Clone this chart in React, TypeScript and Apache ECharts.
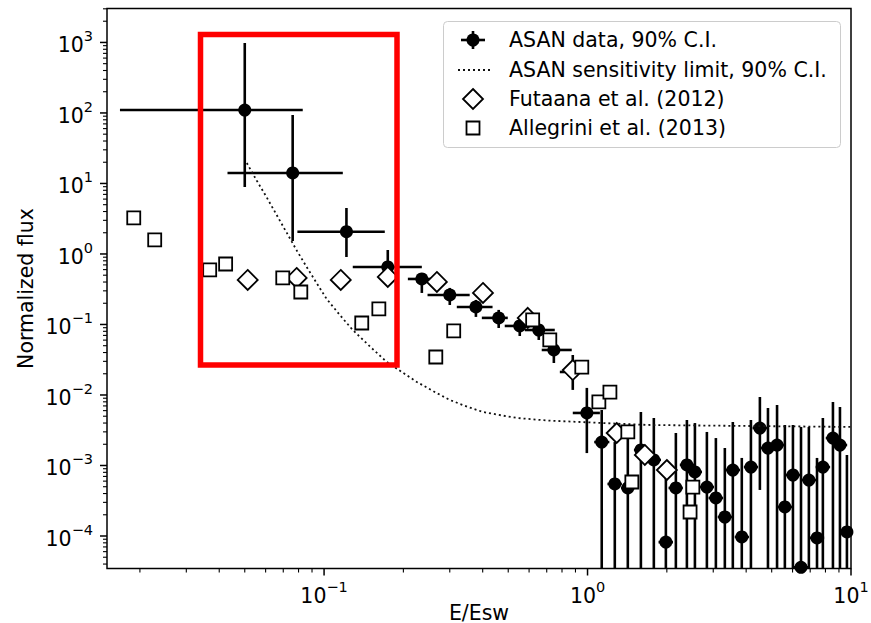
import React, { useEffect, useRef } from 'react';
import * as echarts from 'echarts';

const xAxisName = 'E/Esw';
const yAxisName = 'Normalized flux';
const legendNames = [
  'ASAN data, 90% C.I.',
  'ASAN sensitivity limit, 90% C.I.',
  'Futaana et al. (2012)',
  'Allegrini et al. (2013)',
];

const xMin = 0.015;
const xMax = 10;
const yMin = 3.46e-5;
const yMax = 3030;

const tickExponents = [-4, -3, -2, -1, 0, 1, 2, 3];
const tickExpLabels = ['−4', '−3', '−2', '−1', '0', '1', '2', '3'];

// ASAN data with 90% C.I. error bars
const asanX = [0.05, 0.076, 0.1216, 0.1745, 0.235, 0.3, 0.377, 0.46, 0.553, 0.653, 0.745, 0.879, 0.994,
  1.132, 1.269, 1.422, 1.594, 1.785, 1.983, 2.164, 2.383, 2.556, 2.838, 3.07, 3.32, 3.56, 3.85, 4.17,
  4.51, 4.84, 5.24, 5.61, 6.02, 6.46, 6.92, 7.43, 7.82, 8.54, 9.08, 9.65];
const asanY = [110, 14.1, 2.07, 0.654, 0.442, 0.262, 0.177, 0.124, 0.0953, 0.0835, 0.0435, 0.0212, 0.00556,
  0.00215, 0.000547, 0.00048, 0.00166, 0.0012, 0.000082, 0.00048, 0.00102, 0.00081, 0.000495, 0.000346,
  0.000186, 0.000863, 0.000097, 0.00095, 0.0034, 0.00177, 0.00195, 0.000258, 0.000733, 0.000036, 0.000622,
  0.000094, 0.00095, 0.00245, 0.00195, 0.000114];
const asanXLo = [0.0168, 0.043, 0.0792, 0.1285, 0.208, 0.247, 0.319, 0.397, 0.485, 0.578, 0.67, 0.785, 0.879,
  1.06, 1.19, 1.34, 1.5, 1.68, 1.86, 2.03, 2.24, 2.4, 2.66, 2.88, 3.12, 3.34, 3.62, 3.92,
  4.23, 4.54, 4.92, 5.27, 5.65, 6.07, 6.5, 6.98, 7.34, 8.02, 8.53, 9.06];
const asanXHi = [0.083, 0.1178, 0.17, 0.235, 0.27, 0.357, 0.436, 0.498, 0.631, 0.751, 0.871, 0.955, 1.114,
  1.21, 1.35, 1.51, 1.7, 1.9, 2.11, 2.3, 2.54, 2.72, 3.02, 3.27, 3.54, 3.79, 4.1, 4.44,
  4.8, 5.15, 5.58, 5.97, 6.41, 6.88, 7.37, 7.91, 8.33, 9.09, 9.67, 10.28];
const asanYLo = [8.9, 1.53, 0.906, 0.375, 0.28, 0.189, 0.128, 0.0892, 0.0687, 0.0603, 0.0284, 0.0118, 0.0015,
  1e-6, 1e-6, 1e-6, 1e-6, 1e-6, 1e-6, 1e-6, 1e-6, 1e-6, 1e-6, 1e-6, 1e-6, 1e-6, 1e-6, 1e-6,
  0.00045, 1e-6, 1e-6, 1e-6, 1e-6, 1e-6, 1e-6, 1e-6, 1e-6, 1e-6, 1e-6, 1e-6];
const asanYHi = [984, 93.7, 4.49, 1.14, 0.537, 0.33, 0.223, 0.161, 0.124, 0.116, 0.0665, 0.0369, 0.0126,
  0.00612, 0.00215, 0.0034, 0.00574, 0.00472, 0.00078, 0.00289, 0.00442, 0.004, 0.00299, 0.00245,
  0.00177, 0.00414, 0.00128, 0.00442, 0.00937, 0.00654, 0.00721, 0.00375, 0.00375, 0.00352, 0.00352,
  0.00128, 0.00472, 0.00796, 0.00676, 0.00141];

// ASAN sensitivity limit
const limitX = [0.0509, 0.0555, 0.0605, 0.066, 0.0722, 0.079, 0.0859, 0.094, 0.1023, 0.115, 0.1285, 0.15, 0.173,
  0.2, 0.225, 0.26, 0.3, 0.35, 0.401, 0.47, 0.54, 0.7, 0.936, 1.3, 1.73, 4.13, 10];
const limitY = [19.5, 11.0, 6.4, 3.6, 1.99, 1.1, 0.654, 0.38, 0.23, 0.135, 0.0835, 0.048, 0.0294,
  0.0205, 0.0153, 0.0113, 0.0085, 0.0068, 0.00574, 0.00515, 0.00472, 0.00435, 0.00414, 0.00392, 0.00375, 0.00363, 0.00352];

// Futaana et al. (2012)
const futaanaX = [0.0513, 0.0787, 0.1157, 0.1745, 0.268, 0.401, 0.593, 0.879, 1.29, 1.65, 2.0];
const futaanaY = [0.428, 0.457, 0.428, 0.472, 0.401, 0.28, 0.124, 0.0226, 0.00289, 0.00141, 0.000863];

// Allegrini et al. (2013)
const allegriniX = [0.01895, 0.02276, 0.0368, 0.0423, 0.0697, 0.0816, 0.139, 0.1614, 0.2655, 0.3105, 0.619,
  0.719, 0.951, 1.104, 1.216, 1.422, 1.473, 2.51, 2.45];
const allegriniY = [3.24, 1.58, 0.593, 0.721, 0.457, 0.289, 0.105, 0.166, 0.0346, 0.0809, 0.116,
  0.0603, 0.0249, 0.00796, 0.011, 0.00299, 0.000583, 0.000495, 0.000219];

const minorMultipliers = [2, 3, 4, 5, 6, 7, 8, 9];

function buildTicks(lo: number, hi: number) {
  const out: [number, number][] = [];
  for (let e = Math.floor(Math.log10(lo)); e <= Math.ceil(Math.log10(hi)); e++) {
    const base = Math.pow(10, e);
    if (base >= lo * 0.999 && base <= hi * 1.001) out.push([base, 1]);
    for (const m of minorMultipliers) {
      const v = m * base;
      if (v >= lo && v <= hi) out.push([v, 0]);
    }
  }
  return out;
}

function labelFmt(v: number) {
  const e = Math.log10(v);
  const r = Math.round(e);
  if (Math.abs(e - r) > 1e-6) return '';
  const i = tickExponents.indexOf(r);
  return i >= 0 ? '{b|10}{s|' + tickExpLabels[i] + '}' : '';
}

const FONT = 'DejaVu Sans';
const FS = 20.5;
const richSup = {
  b: { fontFamily: FONT, fontSize: FS, color: '#000', lineHeight: 27, verticalAlign: 'bottom' },
  s: { fontFamily: FONT, fontSize: 14.5, color: '#000', lineHeight: 15, verticalAlign: 'top' },
};

export default function App() {
  const ref = useRef<HTMLDivElement>(null);
  useEffect(() => {
    if (!ref.current) return;
    const chart = echarts.init(ref.current, undefined, { renderer: 'svg' });

    const errData = asanX.map((x, i) => [x, asanY[i], asanXLo[i], asanXHi[i], asanYLo[i], asanYHi[i]]);
    const xTicks = buildTicks(xMin, xMax).map(([v, major]) => [v, yMin, major]);
    const yTicks = buildTicks(yMin, yMax).map(([v, major]) => [xMin, v, major]);

    const lx = 473;
    const rowY = [40, 70, 99, 128];
    const Z = 100;

    chart.setOption({
      animation: false,
      backgroundColor: '#fff',
      grid: {
        left: 107,
        right: 20,
        top: 8.5,
        bottom: 54.5,
        outerBoundsMode: 'none',
        containLabel: false,
        show: true,
        borderColor: '#000',
        borderWidth: 1.5,
        backgroundColor: 'transparent',
      },
      xAxis: {
        type: 'log',
        logBase: 10,
        min: xMin,
        max: xMax,
        name: xAxisName,
        nameLocation: 'middle',
        nameGap: 35,
        nameMoveOverlap: false,
        nameTextStyle: { fontFamily: FONT, fontSize: FS, color: '#000', lineHeight: 18 },
        axisLine: { show: false },
        axisTick: { show: false },
        splitLine: { show: false },
        axisLabel: {
          formatter: labelFmt,
          rich: richSup,
          margin: 11,
          showMinLabel: false,
        },
      },
      yAxis: {
        type: 'log',
        logBase: 10,
        min: yMin,
        max: yMax,
        name: yAxisName,
        nameLocation: 'middle',
        nameGap: 71,
        nameRotate: 90,
        nameMoveOverlap: false,
        nameTextStyle: { fontFamily: FONT, fontSize: FS, color: '#000' },
        axisLine: { show: false },
        axisTick: { show: false },
        splitLine: { show: false },
        axisLabel: {
          formatter: labelFmt,
          rich: richSup,
          margin: 14,
          showMinLabel: false,
          showMaxLabel: false,
        },
      },
      series: [
        {
          type: 'custom',
          name: 'xticks',
          coordinateSystem: 'cartesian2d',
          clip: false,
          silent: true,
          z: 10,
          encode: { x: 0, y: 1 },
          data: xTicks,
          renderItem: (params: any, api: any) => {
            const p = api.coord([api.value(0), api.value(1)]);
            const len = api.value(2) ? 7 : 4;
            return {
              type: 'line',
              shape: { x1: p[0], y1: p[1], x2: p[0], y2: p[1] + len },
              style: { stroke: '#000', lineWidth: api.value(2) ? 1.5 : 1.1 },
            };
          },
        },
        {
          type: 'custom',
          name: 'yticks',
          coordinateSystem: 'cartesian2d',
          clip: false,
          silent: true,
          z: 10,
          encode: { x: 0, y: 1 },
          data: yTicks,
          renderItem: (params: any, api: any) => {
            const p = api.coord([api.value(0), api.value(1)]);
            const len = api.value(2) ? 7 : 4;
            return {
              type: 'line',
              shape: { x1: p[0], y1: p[1], x2: p[0] - len, y2: p[1] },
              style: { stroke: '#000', lineWidth: api.value(2) ? 1.5 : 1.1 },
            };
          },
        },
        {
          type: 'custom',
          name: 'asanErr',
          coordinateSystem: 'cartesian2d',
          clip: true,
          silent: true,
          z: 2,
          encode: { x: 0, y: 1 },
          data: errData,
          renderItem: (params: any, api: any) => {
            const x = api.value(0);
            const y = api.value(1);
            const pl = api.coord([api.value(2), y]);
            const pr = api.coord([api.value(3), y]);
            const pt = api.coord([x, api.value(5)]);
            const pb = api.coord([x, api.value(4)]);
            const bottom = api.coord([x, yMin])[1];
            const right = api.coord([xMax, y])[0];
            const st = { stroke: '#000', lineWidth: 2.6 };
            return {
              type: 'group',
              children: [
                { type: 'line', shape: { x1: pl[0], y1: pl[1], x2: Math.min(pr[0], right), y2: pr[1] }, style: st },
                { type: 'line', shape: { x1: pt[0], y1: pt[1], x2: pb[0], y2: Math.min(pb[1], bottom) }, style: st },
              ],
            };
          },
        },
        {
          type: 'scatter',
          name: legendNames[0],
          z: 3,
          symbol: 'circle',
          symbolSize: 13,
          itemStyle: { color: '#000', opacity: 1 },
          data: asanX.map((x, i) => [x, asanY[i]]),
        },
        {
          type: 'line',
          name: legendNames[1],
          z: 4,
          showSymbol: false,
          symbol: 'none',
          smooth: false,
          lineStyle: { color: '#111', width: 1.8, type: [2, 3], opacity: 1 },
          data: limitX.map((x, i) => [x, limitY[i]]),
        },
        {
          type: 'scatter',
          name: legendNames[2],
          z: 5,
          symbol: 'diamond',
          symbolSize: [20, 20],
          itemStyle: { color: '#fff', borderColor: '#000', borderWidth: 1.8, opacity: 1 },
          data: futaanaX.map((x, i) => [x, futaanaY[i]]),
        },
        {
          type: 'scatter',
          name: legendNames[3],
          z: 6,
          symbol: 'rect',
          symbolSize: 13,
          itemStyle: { color: '#fff', borderColor: '#000', borderWidth: 1.8, opacity: 1 },
          data: allegriniX.map((x, i) => [x, allegriniY[i]]),
        },
      ],
      graphic: [
        {
          type: 'rect',
          z: Z,
          shape: { x: 200.5, y: 34.5, width: 196.5, height: 330.5 },
          style: { fill: 'none', stroke: '#ff0000', lineWidth: 5.5 },
        },
        {
          type: 'rect',
          z: Z + 1,
          shape: { x: 443.5, y: 21.5, width: 397, height: 126, r: 4 },
          style: { fill: 'rgba(255,255,255,0.8)', stroke: '#cccccc', lineWidth: 1 },
        },
        { type: 'line', z: Z + 2, shape: { x1: lx - 12, y1: rowY[0], x2: lx + 12, y2: rowY[0] }, style: { stroke: '#000', lineWidth: 2.6 } },
        { type: 'line', z: Z + 2, shape: { x1: lx, y1: rowY[0] - 9, x2: lx, y2: rowY[0] + 9 }, style: { stroke: '#000', lineWidth: 2.6 } },
        { type: 'circle', z: Z + 3, shape: { cx: lx, cy: rowY[0], r: 6.5 }, style: { fill: '#000' } },
        { type: 'line', z: Z + 2, shape: { x1: lx - 15, y1: rowY[1], x2: lx + 19, y2: rowY[1] }, style: { stroke: '#111', lineWidth: 1.8, lineDash: [2, 3] } },
        { type: 'polygon', z: Z + 2, shape: { points: [[lx, rowY[2] - 10], [lx + 10, rowY[2]], [lx, rowY[2] + 10], [lx - 10, rowY[2]]] }, style: { fill: '#fff', stroke: '#000', lineWidth: 1.8 } },
        { type: 'rect', z: Z + 2, shape: { x: lx - 6.5, y: rowY[3] - 6.5, width: 13, height: 13 }, style: { fill: '#fff', stroke: '#000', lineWidth: 1.8 } },
        ...legendNames.map((name, i) => ({
          type: 'text',
          z: Z + 2,
          x: 509,
          y: rowY[i],
          style: { text: name, fontFamily: FONT, fontSize: FS, fill: '#000', verticalAlign: 'middle' },
        })),
      ],
    });
    return () => chart.dispose();
  }, []);
  return (
    <div
      ref={ref}
      style={{ position: 'fixed', left: 0, top: 0, width: 871, height: 623, background: '#fff' }}
    />
  );
}
